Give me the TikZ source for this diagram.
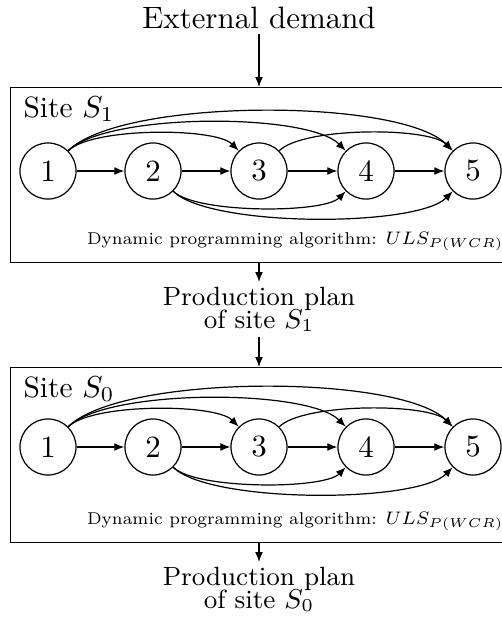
\documentclass[tikz,border=0pt]{standalone}
\usepackage{graphicx}
\usetikzlibrary{arrows.meta}
\newcommand\myplanfont{\fontsize{8.7}{7.6}\selectfont\lineskiplimit=-10pt\relax}
\newcommand\myalgotext{\scalebox{0.854}{\fontsize{6.6}{8}\selectfont Dynamic programming algorithm: $ULS_{P(WCR)}$}}
\begin{document}
\begin{tikzpicture}[x=0.33pt,y=-0.33pt,
  arr/.style={-{Latex[length=3.3pt,width=2.6pt]}},
  stage/.style={circle,draw,minimum size=18.5pt,inner sep=0pt,font=\fontsize{10.2}{12}\selectfont},
  frame/.style={draw,anchor=north west,minimum width=163.35pt,minimum height=57.75pt,inner sep=0pt},
  sitelabel/.style={anchor=base west,inner sep=0pt,font=\fontsize{9.7}{11}\selectfont},
  algo/.style={anchor=base east,inner sep=0pt},
  plan/.style={anchor=north,inner sep=1.5pt,align=center,font=\myplanfont},
  up/.style={bend left=45,looseness=0.5},
  down/.style={bend right=45,looseness=0.47}]
\useasboundingbox (0,0) rectangle (502,617);

\node[anchor=base,inner sep=0pt,font=\fontsize{10.2}{12}\selectfont] (ext) at (259,29) {External demand};

% Site S1
\node[frame] (box1) at (10,87) {};
\node[sitelabel] (lab1) at (23,117) {Site $S_1$};
\node[algo] (alg1) at (504,244) {\myalgotext};
\node[stage] (a1) at (48,171) {1};
\node[stage] (a2) at (153,171) {2};
\node[stage] (a3) at (259,171) {3};
\node[stage] (a4) at (366,171) {4};
\node[stage] (a5) at (473,171) {5};

\node[plan] (p1) at (259,282) {Production plan\\of site $S_1$};

% Site S0
\node[frame] (box2) at (10,367) {};
\node[sitelabel] (lab2) at (23,397) {Site $S_0$};
\node[algo] (alg2) at (504,524) {\myalgotext};
\node[stage] (b1) at (48,447) {1};
\node[stage] (b2) at (153,447) {2};
\node[stage] (b3) at (259,447) {3};
\node[stage] (b4) at (366,447) {4};
\node[stage] (b5) at (473,447) {5};

\node[plan] (p0) at (259,562) {Production plan\\of site $S_0$};

% vertical flow
\draw[arr] ([yshift=-1.5pt]ext.south) -- (ext.south |- box1.north);
\draw[arr] (p1 |- box1.south) -- (p1.north);
\draw[arr] (p1.south) -- (p1.south |- box2.north);
\draw[arr] (p0 |- box2.south) -- (p0.north);

% graphs
\foreach \g in {a,b}{
  \draw[arr] (\g1) -- (\g2);
  \draw[arr] (\g2) -- (\g3);
  \draw[arr] (\g3) -- (\g4);
  \draw[arr] (\g4) -- (\g5);
  \draw[arr] (\g1) to[up] (\g3);
  \draw[arr] (\g1) to[up] (\g4);
  \draw[arr] (\g1) to[up] (\g5);
  \draw[arr] (\g3) to[up] (\g5);
  \draw[arr] (\g2) to[down] (\g4);
  \draw[arr] (\g2) to[down] (\g5);
}
\end{tikzpicture}
\end{document}
